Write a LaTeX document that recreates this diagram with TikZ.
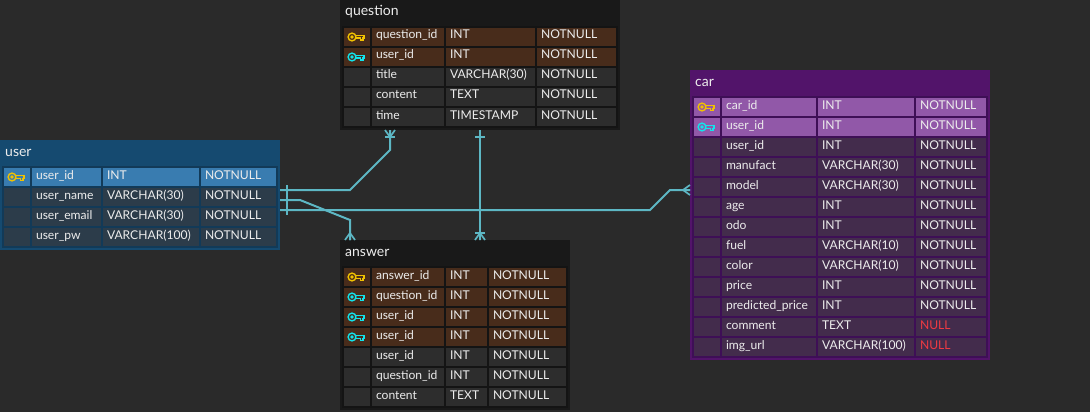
\documentclass[tikz,border=0pt]{standalone}
\usepackage{fontspec}
\setmainfont{Lato}
\usepackage{xcolor}
\usetikzlibrary{positioning,calc}
\definecolor{canvas}{HTML}{2A2A2A}
\definecolor{relline}{HTML}{5DB7C4}
\definecolor{keygold}{HTML}{F2C200}
\definecolor{keycyan}{HTML}{12E4EC}
\definecolor{nullred}{HTML}{EE3A42}
\definecolor{user-head}{HTML}{154A70}
\definecolor{user-band}{HTML}{123A58}
\definecolor{user-n}{HTML}{2C3C4A}
\definecolor{user-k}{HTML}{397CB0}
\definecolor{user-f}{HTML}{397CB0}
\definecolor{dark-head}{HTML}{191919}
\definecolor{dark-band}{HTML}{141414}
\definecolor{dark-n}{HTML}{2D2D2D}
\definecolor{dark-k}{HTML}{482C1B}
\definecolor{dark-f}{HTML}{482C1B}
\definecolor{car-head}{HTML}{52146A}
\definecolor{car-band}{HTML}{3E0F56}
\definecolor{car-n}{HTML}{432C4C}
\definecolor{car-k}{HTML}{9158A8}
\definecolor{car-f}{HTML}{9158A8}
\tikzset{
	cell/.style={anchor=north west, inner xsep=4pt, inner ysep=0pt, outer sep=0pt, align=left,
		text height=11pt, text depth=7pt, text=cellink, font=\fontsize{12.1}{14}\selectfont},
	tablebox/.style={anchor=north west, inner sep=0pt, outer sep=0pt},
	titletext/.style={anchor=base west, inner sep=0pt, text=cellink, font=\fontsize{14}{16}\selectfont},
	rel/.style={line width=2pt, relline},
	keystroke/.style={line width=1.4pt, line join=miter},
	keyk/.pic={
		\draw[keystroke, keygold] (-5,0) circle (3.9);
		\draw[keystroke, keygold] (-5,0) circle (0.9);
		\draw[keystroke, keygold] (-1.2,-1.6) -- (7,-1.6) -- (7,1.2) -- (5.8,1.2) -- (5.8,3.2) -- (3.6,3.2) -- (3.6,1.2) -- (-1.2,1.2);
	},
	keyf/.pic={
		\draw[keystroke, keycyan] (-5,0) circle (3.9);
		\draw[keystroke, keycyan] (-5,0) circle (0.9);
		\draw[keystroke, keycyan] (-1.2,-1.6) -- (7,-1.6) -- (7,1.2) -- (5.8,1.2) -- (5.8,3.2) -- (3.6,3.2) -- (3.6,1.2) -- (-1.2,1.2);
	},
	keyn/.pic={},
	crowtip/.pic={
		\draw[rel, line width=1.7pt] (-5,0) -- (0,7) -- (5,0) (0,0) -- (0,7);
	},
	bartip/.pic={
		\draw[rel] (-5,7) -- (5,7);
	},
}
\colorlet{cellink}{white!93!black}
\newcommand{\ertable}[8]{
	\node[tablebox, fill=#7-head, minimum width=#5pt, minimum height=#6pt] (#1) at (#3,#4) {};
	\node[titletext] (#1-title) at (#3+5,#4+16) {#2};
	\fill[#7-band] (#3+2,#4+26) rectangle (#3+#5-2,#4+#6-2);
	\foreach \rowi/\kind/\fname/\ftype/\fopt in {#8} {
		\node[cell, fill=#7-\kind, minimum width=26pt, text width=18pt] (#1-\rowi-key) at (#3+4,#4+28+20*\rowi) {};
		\node[cell, fill=#7-\kind, text width=\wname pt-8pt, right=2pt of #1-\rowi-key.east, anchor=west] (#1-\rowi-name) {\fname};
		\node[cell, fill=#7-\kind, text width=\wtype pt-8pt, right=2pt of #1-\rowi-name.east, anchor=west] (#1-\rowi-type) {\ftype};
		\node[cell, fill=#7-\kind, text width=\wopt pt-8pt, right=2pt of #1-\rowi-type.east, anchor=west] (#1-\rowi-opt) {\fopt};
		\pic at ($(#1-\rowi-key.center)$) {key\kind};
	}
}
\begin{document}
\begin{tikzpicture}[x=1pt, y=-1pt]
	\fill[canvas] (0,0) rectangle (1090,412);
	\useasboundingbox (0,0) rectangle (1090,412);

	\def\wname{69}\def\wtype{96}\def\wopt{75}
	\ertable{user}{user}{0}{140}{280}{110}{user}{
		0/k/user\_id/INT/NOTNULL,
		1/n/user\_name/VARCHAR(30)/NOTNULL,
		2/n/user\_email/VARCHAR(30)/NOTNULL,
		3/n/user\_pw/VARCHAR(100)/NOTNULL}

	\def\wname{72}\def\wtype{89}\def\wopt{79}
	\ertable{question}{question}{340}{0}{280}{130}{dark}{
		0/k/question\_id/INT/NOTNULL,
		1/f/user\_id/INT/NOTNULL,
		2/n/title/VARCHAR(30)/NOTNULL,
		3/n/content/TEXT/NOTNULL,
		4/n/time/TIMESTAMP/NOTNULL}

	\def\wname{72}\def\wtype{41}\def\wopt{77}
	\ertable{answer}{answer}{340}{240}{230}{170}{dark}{
		0/k/answer\_id/INT/NOTNULL,
		1/f/question\_id/INT/NOTNULL,
		2/f/user\_id/INT/NOTNULL,
		3/f/user\_id/INT/NOTNULL,
		4/n/user\_id/INT/NOTNULL,
		5/n/question\_id/INT/NOTNULL,
		6/n/content/TEXT/NOTNULL}

	\def\wname{94}\def\wtype{96}\def\wopt{70}
	\ertable{car}{car}{690}{70}{300}{290}{car}{
		0/k/car\_id/INT/NOTNULL,
		1/f/user\_id/INT/NOTNULL,
		2/n/user\_id/INT/NOTNULL,
		3/n/manufact/VARCHAR(30)/NOTNULL,
		4/n/model/VARCHAR(30)/NOTNULL,
		5/n/age/INT/NOTNULL,
		6/n/odo/INT/NOTNULL,
		7/n/fuel/VARCHAR(10)/NOTNULL,
		8/n/color/VARCHAR(10)/NOTNULL,
		9/n/price/INT/NOTNULL,
		10/n/predicted\_price/INT/NOTNULL,
		11/n/comment/TEXT/\textcolor{nullred}{NULL},
		12/n/img\_url/VARCHAR(100)/\textcolor{nullred}{NULL}}

	\coordinate (userQ) at ($(user.north east)+(0,50)$);
	\coordinate (userA) at ($(user.north east)+(0,60)$);
	\coordinate (userC) at ($(user.north east)+(0,70)$);
	\coordinate (questionU) at ($(question.south west)+(50,0)$);
	\coordinate (questionA) at ($(question.south west)+(140,0)$);
	\coordinate (answerU) at ($(answer.north west)+(10,0)$);
	\coordinate (answerQ) at ($(answer.north west)+(140,0)$);
	\coordinate (carU) at ($(car.north west)+(0,120)$);

	\draw[rel] (userQ) -- ++(70,0) -- ++(40,-40) -- (questionU);
	\draw[rel] (userA) -- ++(20,0) -- ++(50,20) -- (answerU);
	\draw[rel] (userC) -- ++(370,0) -- ++(20,-20) -- (carU);
	\draw[rel] (questionA) -- (answerQ);
	\draw[rel] ($(userQ)+(7,-5)$) -- ($(userC)+(7,5)$);

	\pic at (questionU) {crowtip};
	\pic at (questionU) {bartip};
	\pic at (questionA) {bartip};
	\pic[rotate=180] at (answerU) {crowtip};
	\pic[rotate=180] at (answerQ) {crowtip};
	\pic[rotate=180] at (answerQ) {bartip};
	\pic[rotate=-90] at (carU) {crowtip};
\end{tikzpicture}
\end{document}
